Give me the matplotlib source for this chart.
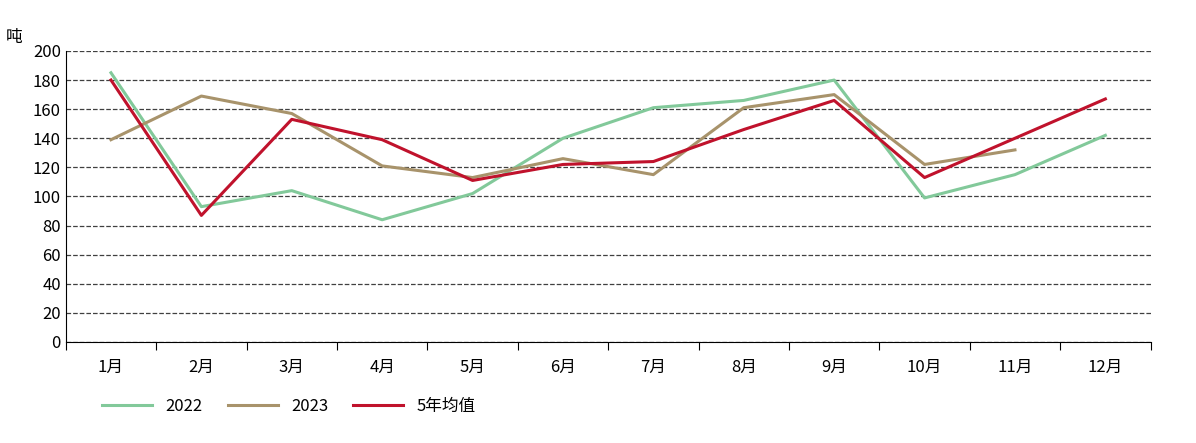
import matplotlib
matplotlib.use('Agg')
import matplotlib.pyplot as plt
import numpy as np

plt.rcParams['font.family'] = ['Noto Sans CJK SC', 'DejaVu Sans']

months = ['1月', '2月', '3月', '4月', '5月', '6月', '7月', '8月', '9月', '10月', '11月', '12月']
y2022 = [185, 93, 104, 84, 102, 140, 161, 166, 180, 99, 115, 142]
y2023 = [139, 169, 157, 121, 113, 126, 115, 161, 170, 122, 132]
avg5 = [180, 87, 153, 139, 111, 122, 124, 146, 166, 113, 140, 167]

fig = plt.figure(figsize=(11.96, 4.43), dpi=100)
ax = fig.add_axes([0.055, 0.228, 0.907, 0.657])

x = np.arange(len(months)) + 0.5
ax.plot(x, y2022, color='#82C99A', lw=2.2, label='2022')
ax.plot(x[:len(y2023)], y2023, color='#A8936B', lw=2.2, label='2023')
ax.plot(x, avg5, color='#C0122C', lw=2.2, label='5年均值')

ax.set_xlim(0, 12)
ax.set_ylim(0, 200)
ax.set_yticks(range(0, 201, 20))
ax.set_xticks(range(13))
ax.set_xticklabels([])
ax.set_xticks(x, minor=True)
ax.set_xticklabels(months, minor=True)
ax.tick_params(axis='x', which='minor', length=0, pad=12, labelsize=12)
ax.tick_params(axis='x', which='major', length=6, direction='out')
ax.tick_params(axis='y', length=0, labelsize=12)
ax.yaxis.grid(True, linestyle='--', color='#404040', lw=0.9)
for s in ['top', 'right']:
    ax.spines[s].set_visible(False)
ax.text(-0.055, 1.03, '吨', transform=ax.transAxes, fontsize=12)

ax.legend(loc='upper left', bbox_to_anchor=(0.02, -0.14), ncol=3, frameon=False,
          fontsize=12, handlelength=3, columnspacing=1.5)

fig.savefig('out.png', dpi=100)
